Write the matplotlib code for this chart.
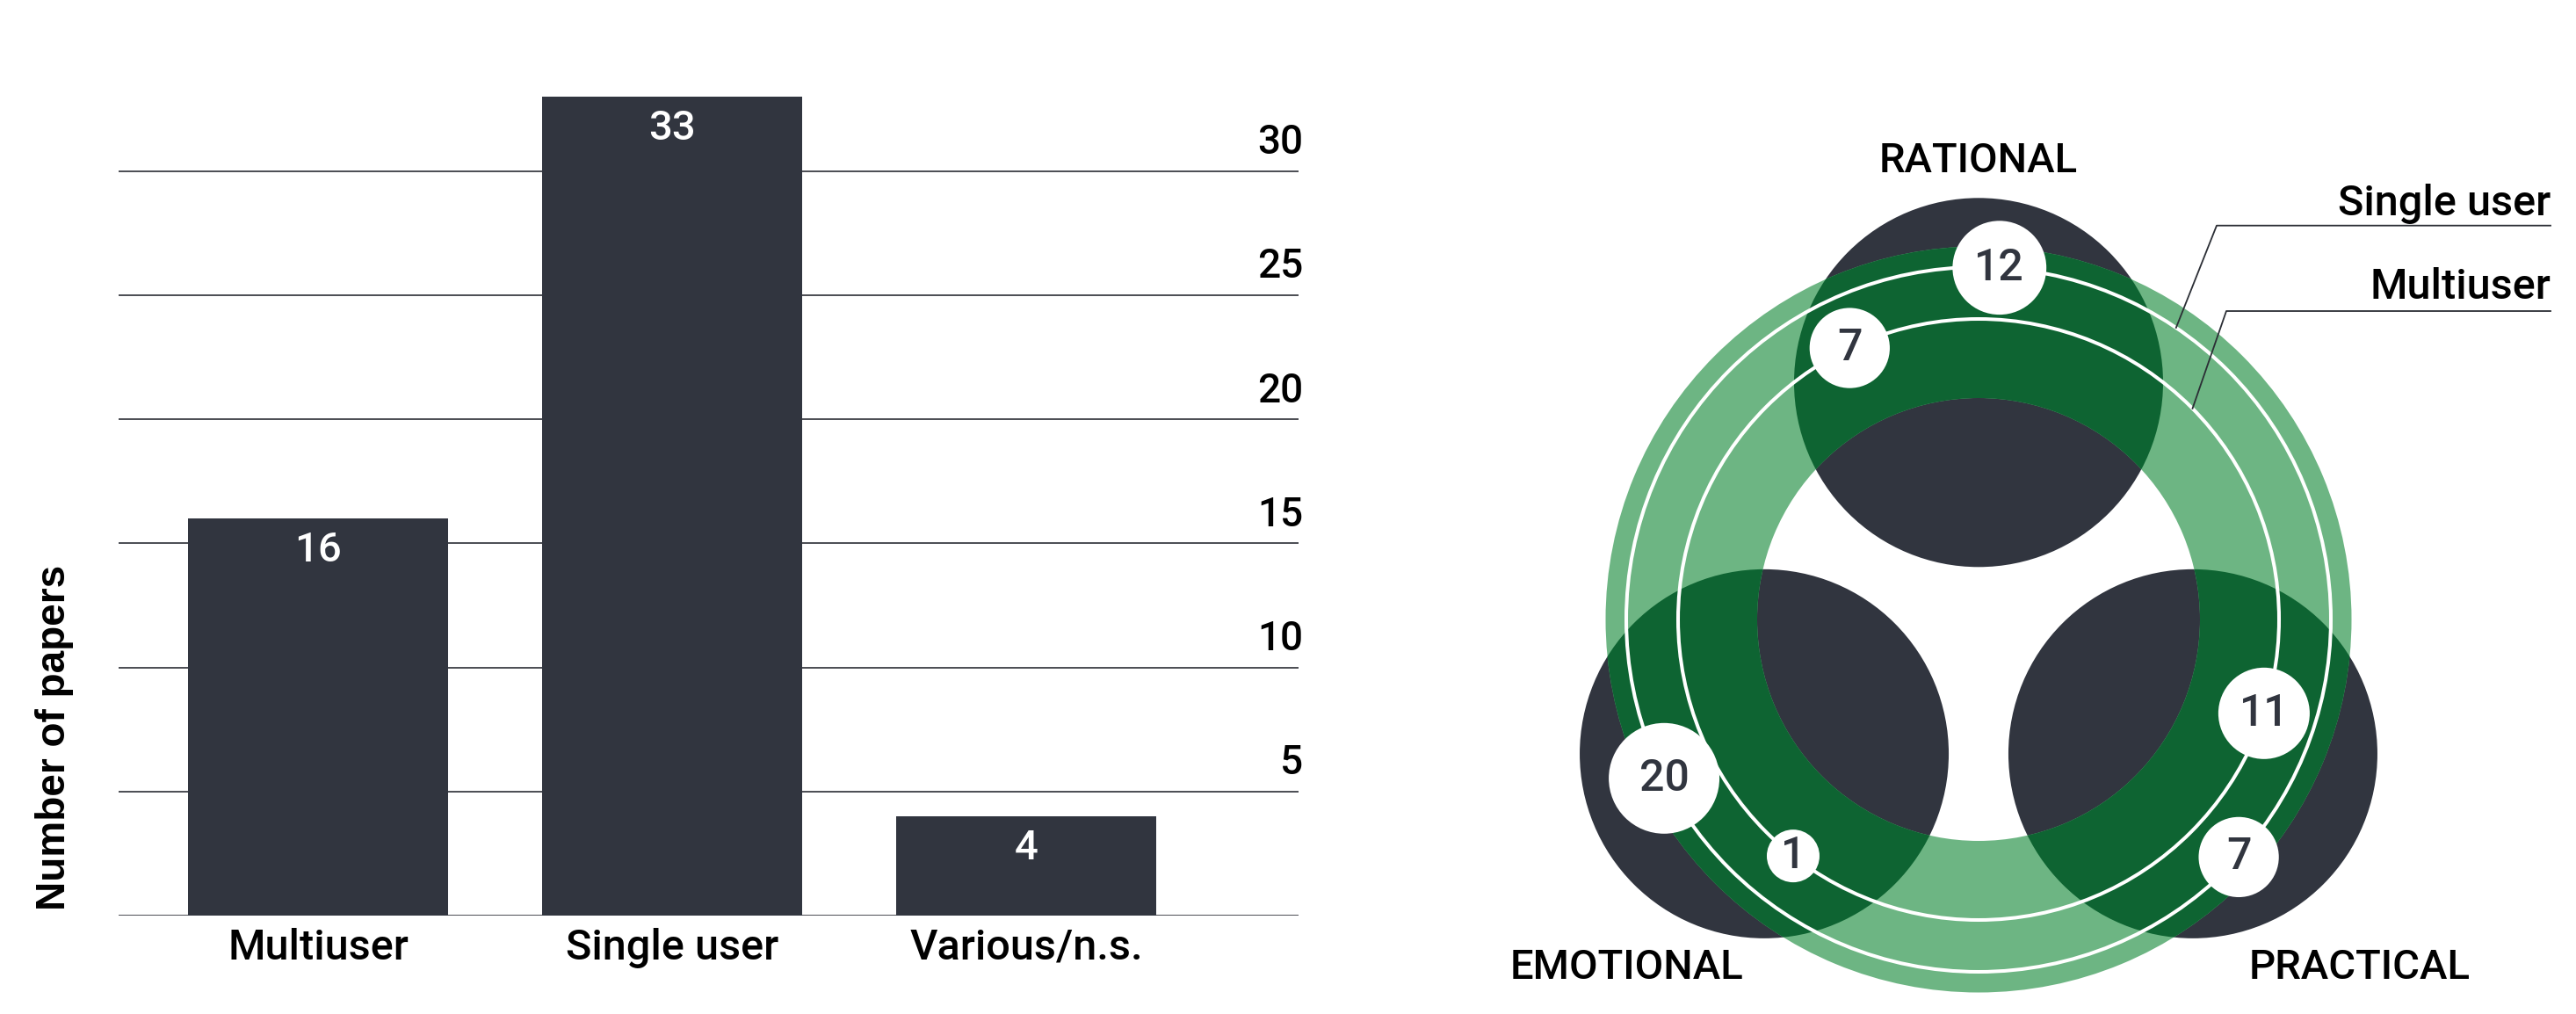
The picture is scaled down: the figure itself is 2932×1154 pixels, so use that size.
import numpy as np
import matplotlib.pyplot as plt
from matplotlib.patches import Circle, Annulus

W, H, DPI = 2932, 1154, 100

# bar chart data
bar_cats = ['Multiuser', 'Single user', 'Various/n.s.']
bar_vals = [16, 33, 4]
y_ticks = [5, 10, 15, 20, 25, 30]

# venn / ring data
venn_cats = ['RATIONAL', 'EMOTIONAL', 'PRACTICAL']
ring_names = ['Single user', 'Multiuser']
single_counts = [12, 20, 7]
multi_counts = [7, 1, 11]

DARK = '#31353f'
LINE = '#2b2e35'
LIGHT_GREEN = '#6db583'
DARK_GREEN = '#0e6432'
DIN = ['Roboto', 'DejaVu Sans']

fig = plt.figure(figsize=(W / DPI, H / DPI), dpi=DPI)


def px_box(x0, y0, x1, y1):
    # pixel box (top-left origin) -> figure fraction rect
    return [x0 / W, 1 - y1 / H, (x1 - x0) / W, (y1 - y0) / H]


# ---------------- bar chart ----------------
ax = fig.add_axes(px_box(135, 53.3, 1478, 1042))
x = np.arange(len(bar_cats))
ax.set_xlim(-0.563, 2.768)
ax.set_ylim(0, 35)
for t in [0] + y_ticks:
    ax.axhline(t, color=LINE, lw=1.2, zorder=1)
bars = ax.bar(x, bar_vals, width=0.734, color=DARK, zorder=2)
for b, v in zip(bars, bar_vals):
    ax.annotate(str(v), (b.get_x() + b.get_width() / 2, v), xytext=(0, -10),
                textcoords='offset points', ha='center', va='top',
                color='white', fontsize=34, family=DIN, fontweight='medium')
for t in y_ticks:
    ax.annotate(str(t), (1, t), xycoords=ax.get_yaxis_transform(),
                xytext=(4, 14), textcoords='offset points', ha='right',
                va='baseline', fontsize=33, family=DIN, fontweight='medium')
ax.set_xticks(x, bar_cats, fontsize=35, family=DIN, fontweight='medium')
ax.tick_params(axis='x', length=0, pad=10)
ax.set_yticks([])
for s in ax.spines.values():
    s.set_visible(False)
ax.patch.set_visible(False)

fig.text(62 / W, 1 - 839 / H, 'Number of papers', rotation=90, ha='center',
         va='center', fontsize=33, fontweight='bold', family='Liberation Sans')

# ---------------- ring diagram ----------------
vx = fig.add_axes([0, 0, 1, 1])
vx.set_xlim(0, W)
vx.set_ylim(H, 0)
vx.axis('off')
vx.patch.set_visible(False)

TRI_C = (2252, 717)
TRI_R = 281.7
DOT_R = 210
RING_C = (2252, 705)
RING_OUT, RING_IN = 424.5, 252
LINE_R = [401, 342]  # single user, multiuser
cat_angles = [90, 210, 330]
badge_angles = [[86.6, 206.8, 317.6], [115.4, 231.9, -18.2]]
label_xy = [(2252, 183), (1852, 1101), (2686, 1101)]
leader_angles = [55.9, 44.6]
legend_base = [245, 340]
legend_line_y = [256.7, 354]
legend_line_x0 = [2523, 2534]
LEGEND_RIGHT = 2903


def polar(c, r, a):
    return c[0] + r * np.cos(np.radians(a)), c[1] - r * np.sin(np.radians(a))


dots = []
for a in cat_angles:
    c = Circle(polar(TRI_C, TRI_R, a), DOT_R, color=DARK, lw=0, zorder=1)
    vx.add_patch(c)
    dots.append(c)

vx.add_patch(Annulus(RING_C, RING_OUT, RING_OUT - RING_IN, color=LIGHT_GREEN,
                     lw=0, zorder=2))
for c in dots:
    a2 = Annulus(RING_C, RING_OUT, RING_OUT - RING_IN, color=DARK_GREEN,
                 lw=0, zorder=3)
    vx.add_patch(a2)
    a2.set_clip_path(c)

for r in LINE_R:
    vx.add_patch(Circle(RING_C, r, fill=False, ec='white', lw=2.9, zorder=4))

for i, counts in enumerate([single_counts, multi_counts]):
    for v, ang in zip(counts, badge_angles[i]):
        bx, by = polar(RING_C, LINE_R[i], ang)
        vx.add_patch(Circle((bx, by), 20.5 + 9.5 * np.sqrt(v), color='white',
                            lw=0, zorder=5))
        vx.text(bx, by, str(v), ha='center', va='center', color=DARK,
                fontsize=36, family=DIN, fontweight='medium', zorder=6)

for name, (lx, ly) in zip(venn_cats, label_xy):
    vx.text(lx, ly, name, ha='center', va='center', fontsize=34,
            family=DIN, fontweight='medium', color='black')

for i, name in enumerate(ring_names):
    vx.text(LEGEND_RIGHT, legend_base[i], name, ha='right', va='baseline',
            fontsize=35, family=DIN, fontweight='medium', color='black')
    ex, ey = polar(RING_C, LINE_R[i], leader_angles[i])
    vx.plot([ex, legend_line_x0[i], LEGEND_RIGHT],
            [ey, legend_line_y[i], legend_line_y[i]], color=LINE, lw=1.3,
            zorder=7)

fig.savefig('out.png', dpi=DPI)
